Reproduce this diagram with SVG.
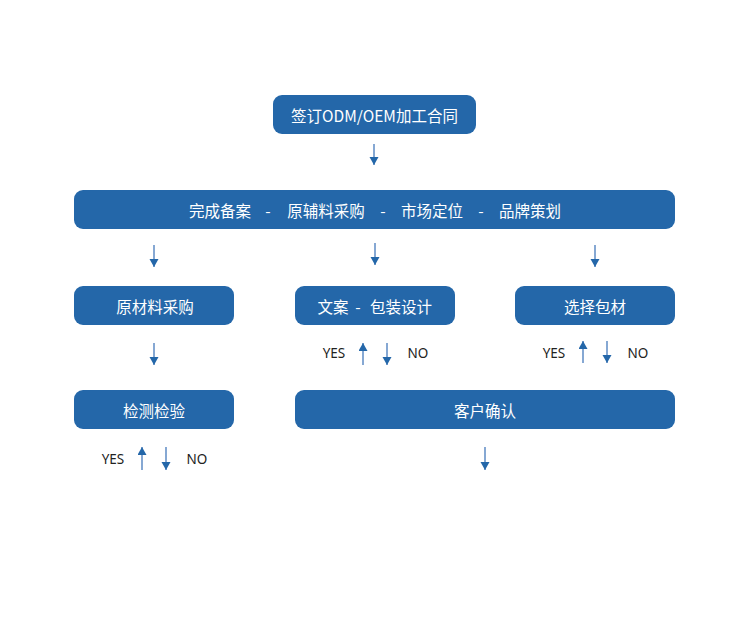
<svg xmlns="http://www.w3.org/2000/svg" width="750" height="617" viewBox="0 0 750 617">
<style>
.box{fill:#2467a9;}
.t{fill:#ffffff;font-family:"Noto Sans CJK SC","Noto Sans",sans-serif;font-size:15.5px;text-anchor:middle;dominant-baseline:central;}
.yn{fill:#222222;font-family:"Noto Sans","Liberation Sans",sans-serif;font-size:13.5px;text-anchor:middle;dominant-baseline:central;}
.ar{stroke:#5e8bc4;stroke-width:1.5;fill:none;marker-end:url(#h);}
</style>
<defs>
<marker id="h" markerUnits="userSpaceOnUse" markerWidth="10" markerHeight="10" refX="8" refY="4.5" orient="auto">
<path d="M0,0 L8,4.5 L0,9 z" fill="#2467a9"/>
</marker>
</defs>
<rect width="750" height="617" fill="#ffffff"/>
<g id="n1"><rect class="box" x="273" y="95" width="203" height="39" rx="9"/><text class="t" x="374.5" y="114.5">签订ODM/OEM加工合同</text></g>
<g id="n2"><rect class="box" x="74" y="190" width="601" height="39" rx="9"/>
<text class="t" y="209.5"><tspan x="220">完成备案</tspan><tspan x="268">-</tspan><tspan x="326">原辅料采购</tspan><tspan x="383">-</tspan><tspan x="432">市场定位</tspan><tspan x="481">-</tspan><tspan x="530">品牌策划</tspan></text></g>
<g id="n3"><rect class="box" x="74" y="286" width="160" height="39" rx="9"/><text class="t" x="155" y="305.5">原材料采购</text></g>
<g id="n4"><rect class="box" x="295" y="286" width="160" height="39" rx="9"/><text class="t" y="305.5"><tspan x="333">文案</tspan><tspan x="358">-</tspan><tspan x="401">包装设计</tspan></text></g>
<g id="n5"><rect class="box" x="515" y="286" width="160" height="39" rx="9"/><text class="t" x="595" y="305.5">选择包材</text></g>
<g id="n6"><rect class="box" x="74" y="390" width="160" height="39" rx="9"/><text class="t" x="154" y="409.5">检测检验</text></g>
<g id="n7"><rect class="box" x="295" y="390" width="380" height="39" rx="9"/><text class="t" x="485" y="409.5">客户确认</text></g>
<g id="connectors">
<line class="ar" x1="374" y1="144" x2="374" y2="165"/>
<line class="ar" x1="154" y1="245" x2="154" y2="267"/>
<line class="ar" x1="375" y1="243" x2="375" y2="265"/>
<line class="ar" x1="595" y1="245" x2="595" y2="267"/>
<line class="ar" x1="154" y1="343" x2="154" y2="365"/>
<line class="ar" x1="363" y1="365" x2="363" y2="343"/>
<line class="ar" x1="387" y1="343" x2="387" y2="365"/>
<line class="ar" x1="583" y1="363" x2="583" y2="341"/>
<line class="ar" x1="607" y1="341" x2="607" y2="363"/>
<line class="ar" x1="142" y1="470" x2="142" y2="447"/>
<line class="ar" x1="166" y1="447" x2="166" y2="470"/>
<line class="ar" x1="485" y1="447" x2="485" y2="470"/>
</g>
<text class="yn" x="334" y="353">YES</text><text class="yn" x="418" y="353">NO</text>
<text class="yn" x="554" y="353">YES</text><text class="yn" x="638" y="353">NO</text>
<text class="yn" x="113" y="459">YES</text><text class="yn" x="197" y="459">NO</text>
</svg>
